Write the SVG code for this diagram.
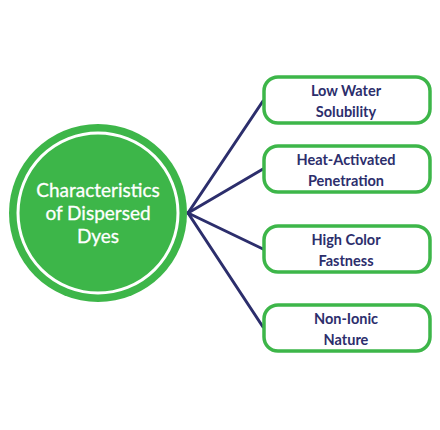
<svg xmlns="http://www.w3.org/2000/svg" width="440" height="430" viewBox="0 0 440 430">
<style>
.box{fill:#fff;stroke:#3db649;stroke-width:3.5}
.bt{font-family:Lato,"Liberation Sans",sans-serif;font-weight:bold;font-size:14.5px;fill:#2c2e6c;text-anchor:middle}
.ct{font-family:Lato,"Liberation Sans",sans-serif;font-size:19px;fill:#fff;text-anchor:middle;stroke:#fff;stroke-width:0.3}
.con{stroke:#2c2e6c;stroke-width:3;fill:none;stroke-linecap:round}
</style>
<rect width="440" height="430" fill="#fff"/>
<g id="connectors">
<line class="con" x1="188" y1="213" x2="263" y2="101"/>
<line class="con" x1="188" y1="213" x2="263" y2="169"/>
<line class="con" x1="188" y1="213" x2="263" y2="249"/>
<line class="con" x1="188" y1="213" x2="263" y2="327"/>
</g>
<g id="center">
<circle cx="98" cy="213" r="89" fill="#3db649"/>
<circle cx="98" cy="213" r="80" fill="none" stroke="#fff" stroke-width="3"/>
<text class="ct" x="98" y="197">Characteristics</text>
<text class="ct" x="98" y="220">of Dispersed</text>
<text class="ct" x="98" y="243">Dyes</text>
</g>
<g id="n1">
<rect class="box" x="264" y="77" width="166" height="46" rx="14"/>
<text class="bt" x="346" y="96">Low Water</text>
<text class="bt" x="346" y="117">Solubility</text>
</g>
<g id="n2">
<rect class="box" x="264" y="146" width="166" height="46" rx="14"/>
<text class="bt" x="346" y="165">Heat-Activated</text>
<text class="bt" x="346" y="186">Penetration</text>
</g>
<g id="n3">
<rect class="box" x="264" y="226" width="166" height="46" rx="14"/>
<text class="bt" x="346" y="245">High Color</text>
<text class="bt" x="346" y="266">Fastness</text>
</g>
<g id="n4">
<rect class="box" x="264" y="305" width="166" height="46" rx="14"/>
<text class="bt" x="346" y="324">Non-Ionic</text>
<text class="bt" x="346" y="345">Nature</text>
</g>
</svg>
